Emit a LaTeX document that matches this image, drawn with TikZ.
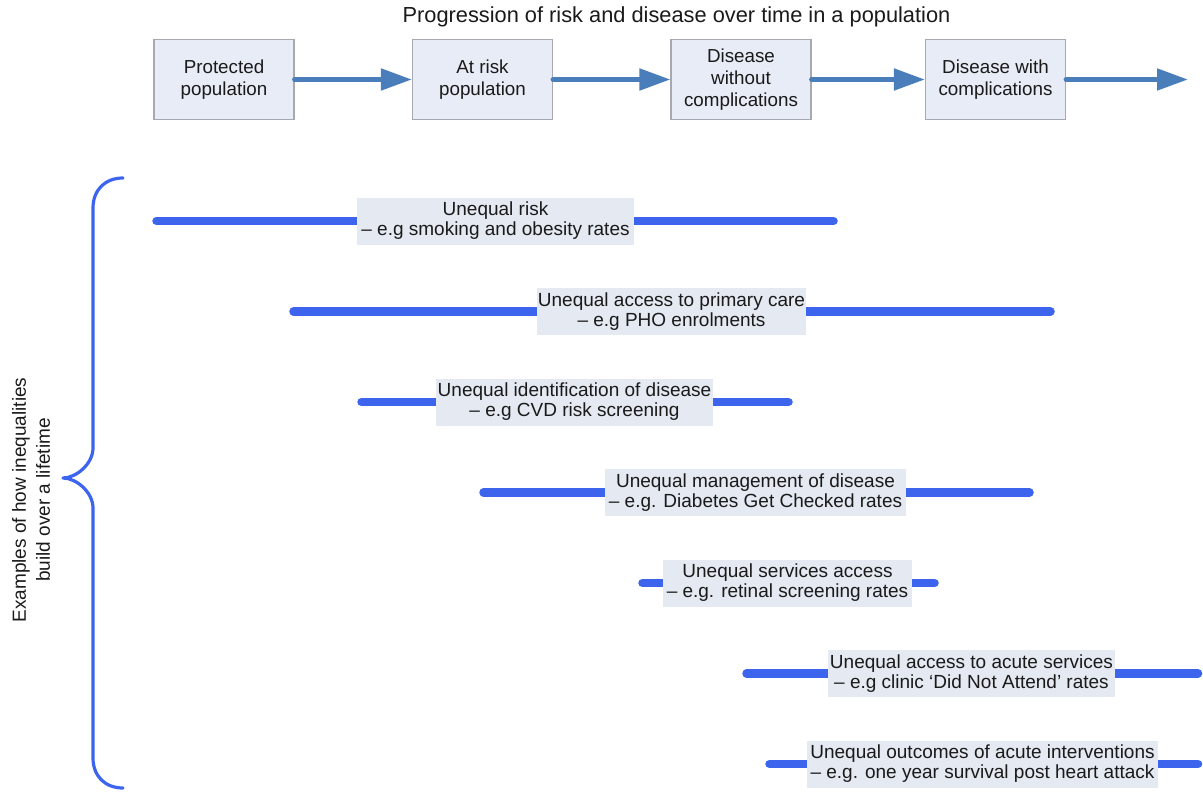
\documentclass[tikz,border=0pt]{standalone}
\usepackage{fontspec}
\setmainfont{Liberation Sans}
\usetikzlibrary{arrows.meta}
\definecolor{arrowblue}{HTML}{4A7EBB}
\definecolor{barblue}{HTML}{3C64EC}
\definecolor{boxfill}{HTML}{E8ECF6}
\definecolor{boxline}{HTML}{A8A8B0}
\definecolor{labelfill}{HTML}{E4E9F2}
\definecolor{txt}{HTML}{1A1A1A}
\begin{document}
\begin{tikzpicture}[x=1pt,y=-1pt,
  stagebox/.style={draw=boxline, line width=1.2pt, fill=boxfill, minimum width=140pt,
    minimum height=80pt, inner sep=0pt, align=center,
    font=\fontsize{18.8}{22}\selectfont, text=txt},
  flowarrow/.style={draw=arrowblue, line width=5pt, line cap=round,
    -{Triangle[length=31pt,width=21pt]}},
  barline/.style={draw=barblue, line width=8.5pt, line cap=round},
  labelbox/.style={fill=labelfill, inner xsep=0pt, inner ysep=0pt, minimum height=47pt,
    align=center, font=\fontsize{19}{20}\selectfont, text=txt},
  bracestyle/.style={draw=barblue, line width=3.2pt, line cap=round, line join=round},
  titletext/.style={font=\fontsize{21.8}{24}\selectfont, text=txt, inner sep=0pt},
  sidetext/.style={font=\fontsize{19}{24}\selectfont, text=txt, align=center, rotate=90, inner sep=0pt}
]
\useasboundingbox (0,0) rectangle (1203,792);

% title
\node[titletext, anchor=base] (title) at (676.5,22.4) {Progression of risk and disease over time in a population};

% stage boxes
\node[stagebox] (b1) at (224,79.5) {Protected\\population};
\node[stagebox] (b2) at (482.5,79.5) {At risk\\population};
\node[stagebox] (b3) at (741,79.5) {Disease\\without\\complications};
\node[stagebox] (b4) at (995.5,79.5) {Disease with\\complications};
\coordinate (bend) at (1188,79.5);

\draw[flowarrow] (b1.east) -- (b2.west);
\draw[flowarrow] (b2.east) -- (b3.west);
\draw[flowarrow] (b3.east) -- (b4.west);
\draw[flowarrow] (b4.east) -- (bend);

% brace
\draw[bracestyle] (123,178) .. controls (105,178) and (93,190) .. (93,208)
  -- (93,448) .. controls (93,464) and (76,478) .. (63,478)
  .. controls (76,478) and (93,492) .. (93,508)
  -- (93,758) .. controls (93,776) and (105,788) .. (123,788);
\node[sidetext] (side) at (31,500) {Examples of how inequalities\\build over a lifetime};

% bars
\coordinate (r1a) at (156.5,221);   \coordinate (r1b) at (833.5,221);
\coordinate (r2a) at (293.5,311.5); \coordinate (r2b) at (1050.5,311.5);
\coordinate (r3a) at (361.5,402);   \coordinate (r3b) at (788.5,402);
\coordinate (r4a) at (483.5,492.5); \coordinate (r4b) at (1029.5,492.5);
\coordinate (r5a) at (642.5,583);   \coordinate (r5b) at (934.5,583);
\coordinate (r6a) at (746.5,673.5); \coordinate (r6b) at (1198,673.5);
\coordinate (r7a) at (769.5,764);   \coordinate (r7b) at (1198,764);
\draw[barline] (r1a) -- (r1b);
\draw[barline] (r2a) -- (r2b);
\draw[barline] (r3a) -- (r3b);
\draw[barline] (r4a) -- (r4b);
\draw[barline] (r5a) -- (r5b);
\draw[barline] (r6a) -- (r6b);
\draw[barline] (r7a) -- (r7b);

% labels
\node[labelbox, minimum width=277pt] (l1) at (495.5,221) {Unequal risk\\– e.g smoking and obesity rates};
\node[labelbox, minimum width=269pt] (l2) at (671.5,311.5) {Unequal access to primary care\\– e.g PHO enrolments};
\node[labelbox, minimum width=277pt] (l3) at (574.5,402) {Unequal identification of disease\\– e.g CVD risk screening};
\node[labelbox, minimum width=301pt] (l4) at (755.5,492.5) {Unequal management of disease\\– e.g. Diabetes Get Checked rates};
\node[labelbox, minimum width=249pt] (l5) at (787.5,583) {Unequal services access\\– e.g. retinal screening rates};
\node[labelbox, minimum width=287pt] (l6) at (971.5,673.5) {Unequal access to acute services\\– e.g clinic ‘Did Not Attend’ rates};
\node[labelbox, minimum width=351pt] (l7) at (982.5,764) {Unequal outcomes of acute interventions\\– e.g. one year survival post heart attack};
\end{tikzpicture}
\end{document}
